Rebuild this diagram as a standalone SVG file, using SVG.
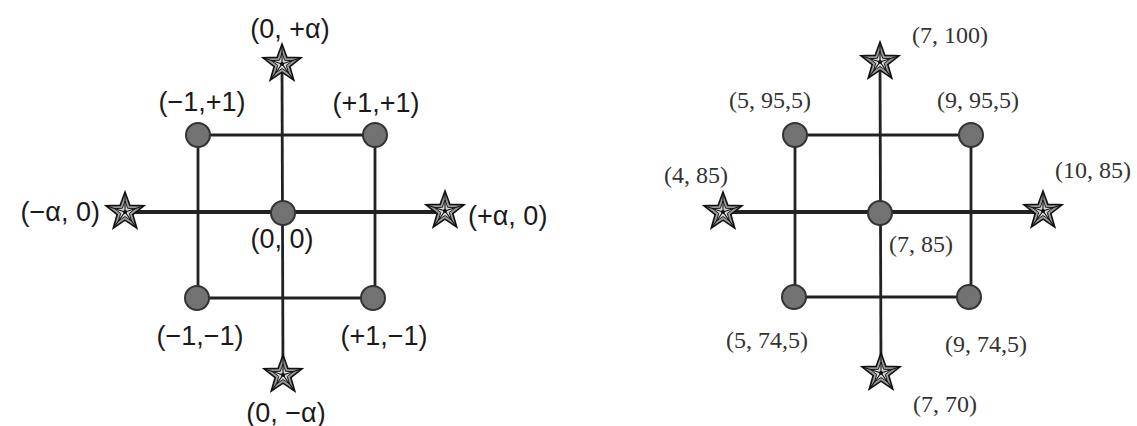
<svg xmlns="http://www.w3.org/2000/svg" xmlns:xlink="http://www.w3.org/1999/xlink" width="1137" height="426" viewBox="0 0 1137 426">
<style>
.sans{font-family:"Liberation Sans",Arial,sans-serif;font-size:27px;fill:#1a1a1a;text-anchor:middle}
.serif{font-family:"Liberation Serif","Times New Roman",serif;font-size:24px;fill:#333;text-anchor:middle}
.axis{stroke:#222;stroke-width:4;fill:none}
.vaxis{stroke:#222;stroke-width:2.8;fill:none}
.sq{stroke:#222;stroke-width:2.8;fill:none}
.pt{fill:#727272;stroke:#333;stroke-width:2}
</style>
<defs>
<g id="star">
<polygon points="0,-20 4.82,-6.63 19.02,-6.18 7.8,2.53 11.76,16.18 0,8.2 -11.76,16.18 -7.8,2.53 -19.02,-6.18 -4.82,-6.63" fill="#9a9a9a" stroke="#111" stroke-width="1.6" stroke-linejoin="miter"/>
<polygon points="0,-11 2.65,-3.65 10.46,-3.4 4.29,1.39 6.47,8.9 0,4.51 -6.47,8.9 -4.29,1.39 -10.46,-3.4 -2.65,-3.65" fill="#d8d8d8" stroke="#222" stroke-width="1"/>
<path d="M0,0L0,-20M0,0L19.02,-6.18M0,0L11.76,16.18M0,0L-11.76,16.18M0,0L-19.02,-6.18" stroke="#111" stroke-width="1.1"/>
<circle r="2" fill="#111"/>
</g>
</defs>
<rect width="1137" height="426" fill="#fff"/>
<g id="connectors">
<path class="vaxis" d="M282,64 L283,375"/>
<path class="axis" d="M125,212 L445,212"/>
<path class="sq" d="M198,135 L375,135 L375,298 L198,298 Z"/>
<path class="vaxis" d="M880,62 L881,373"/>
<path class="axis" d="M723,212 L1043,212"/>
<path class="sq" d="M795,135 L971,135 L971,297 L795,297 Z"/>
</g>
<g id="left-stars">
<use id="sL-top" xlink:href="#star" x="282" y="64"/>
<use id="sL-bottom" xlink:href="#star" x="283" y="375"/>
<use id="sL-left" xlink:href="#star" x="125" y="212"/>
<use id="sL-right" xlink:href="#star" x="445" y="211"/>
</g>
<g id="left-points">
<circle id="pL-tl" class="pt" cx="198" cy="135" r="12"/>
<circle id="pL-tr" class="pt" cx="375" cy="135" r="12"/>
<circle id="pL-bl" class="pt" cx="197" cy="298" r="12"/>
<circle id="pL-br" class="pt" cx="373" cy="298" r="12"/>
<circle id="pL-c" class="pt" cx="283" cy="213" r="12"/>
</g>
<g id="left-labels">
<text class="sans" x="290" y="38">(0, +α)</text>
<text class="sans" x="202" y="111">(−1,+1)</text>
<text class="sans" x="376" y="112">(+1,+1)</text>
<text class="sans" x="100" y="221" style="text-anchor:end">(−α, 0)</text>
<text class="sans" x="468" y="225" style="text-anchor:start">(+α, 0)</text>
<text class="sans" x="282" y="248">(0, 0)</text>
<text class="sans" x="200" y="345">(−1,−1)</text>
<text class="sans" x="384" y="345">(+1,−1)</text>
<text class="sans" x="286" y="422">(0, −α)</text>
</g>
<g id="right-stars">
<use id="sR-top" xlink:href="#star" x="880" y="62"/>
<use id="sR-bottom" xlink:href="#star" x="881" y="373"/>
<use id="sR-left" xlink:href="#star" x="723" y="212"/>
<use id="sR-right" xlink:href="#star" x="1043" y="211"/>
</g>
<g id="right-points">
<circle id="pR-tl" class="pt" cx="795" cy="135" r="12"/>
<circle id="pR-tr" class="pt" cx="971" cy="135" r="12"/>
<circle id="pR-bl" class="pt" cx="794" cy="297" r="12"/>
<circle id="pR-br" class="pt" cx="969" cy="297" r="12"/>
<circle id="pR-c" class="pt" cx="880" cy="213" r="12"/>
</g>
<g id="right-labels">
<text class="serif" x="950" y="43">(7, 100)</text>
<text class="serif" x="770" y="108">(5, 95,5)</text>
<text class="serif" x="978" y="108">(9, 95,5)</text>
<text class="serif" x="728" y="183" style="text-anchor:end">(4, 85)</text>
<text class="serif" x="1055" y="178" style="text-anchor:start">(10, 85)</text>
<text class="serif" x="921" y="252">(7, 85)</text>
<text class="serif" x="767" y="348">(5, 74,5)</text>
<text class="serif" x="986" y="352">(9, 74,5)</text>
<text class="serif" x="945" y="412">(7, 70)</text>
</g>
</svg>
